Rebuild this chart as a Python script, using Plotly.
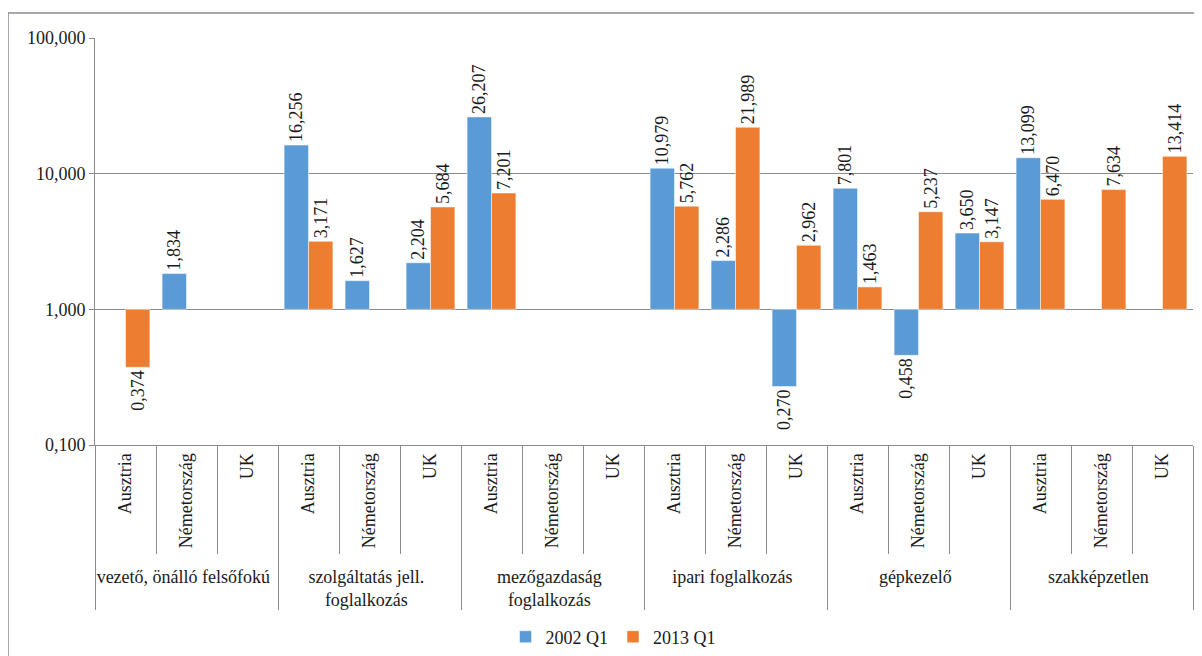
import plotly.graph_objects as go

groups = [
    "vezető, önálló felsőfokú",
    "szolgáltatás jell.<br>foglalkozás",
    "mezőgazdaság<br>foglalkozás",
    "ipari foglalkozás",
    "gépkezelő",
    "szakképzetlen",
]
countries = ["Ausztria", "Németország", "UK"]

v2002 = [None, 1.834, None,
         16.256, 1.627, 2.204,
         26.207, None, None,
         10.979, 2.286, 0.270,
         7.801, 0.458, 3.650,
         13.099, None, None]
v2013 = [0.374, None, None,
         3.171, None, 5.684,
         7.201, None, None,
         5.762, 21.989, 2.962,
         1.463, 5.237, 3.147,
         6.470, 7.634, 13.414]

BLUE = "#5b9bd5"
ORANGE = "#ed7d31"
GRID = "#8c8c8c"
FONT = "Liberation Serif, Times New Roman, serif"

x_outer = [g for g in groups for _ in countries]
x_inner = [c for _ in groups for c in countries]

# bars grow from 1 on the log axis, like the Excel original
BASE = 1.0


def bar(name, vals, color):
    return go.Bar(
        name=name,
        x=[x_outer, x_inner],
        y=[None if v is None else v - BASE for v in vals],
        base=BASE,
        customdata=vals,
        marker=dict(color=color, line=dict(color="white", width=0.5)),
        texttemplate="%{customdata:.3f}",
        textposition="outside",
        textangle=-90,
        constraintext="none",
        cliponaxis=False,
        textfont=dict(family=FONT, size=18, color="#1a1a1a"),
        hovertemplate="%{x}<br>%{customdata:.3f}<extra>" + name + "</extra>",
    )


fig = go.Figure([bar("2002 Q1", v2002, BLUE), bar("2013 Q1", v2013, ORANGE)])

# the page body adds an 8px margin, so the figure is 8px smaller
W, H = 1194, 648
L, R, T, B = 87, 9, 30, 211
pw, ph = W - L - R, H - T - B

fig.update_layout(
    template="none",
    width=W, height=H,
    margin=dict(l=L, r=R, t=T, b=B, autoexpand=False),
    paper_bgcolor="white", plot_bgcolor="white",
    separators=",.",
    font=dict(family=FONT, size=18, color="#1a1a1a"),
    barmode="group",
    bargap=0.2,
    bargroupgap=0,
    showlegend=True,
    legend=dict(orientation="h", x=(605 - L) / pw, xanchor="center",
                y=-(629 - (H - B)) / ph, yanchor="middle",
                font=dict(family=FONT, size=18), itemwidth=30),
    shapes=[dict(type="rect", xref="paper", yref="paper",
                 x0=(0 - L) / pw, x1=1.2, y0=-1, y1=1 + (T - 5) / ph,
                 line=dict(color=GRID, width=1.5), layer="below")],
)

fig.update_yaxes(
    type="log",
    range=[-1, 2],
    dtick=1,
    tickformat=".3f",
    showgrid=True, gridcolor=GRID, gridwidth=1,
    showline=True, linecolor=GRID, linewidth=1,
    ticks="outside", ticklen=5, tickcolor=GRID,
    zeroline=False,
    tickfont=dict(family=FONT, size=18),
)

fig.update_xaxes(
    type="multicategory",
    tickangle=-90,
    showline=True, linecolor=GRID, linewidth=1,
    ticks="outside", tickson="boundaries", ticklen=108, tickcolor=GRID,
    showdividers=True, dividercolor=GRID, dividerwidth=1,
    showgrid=False,
    tickfont=dict(family=FONT, size=18),
)

fig.write_html("out.html")
